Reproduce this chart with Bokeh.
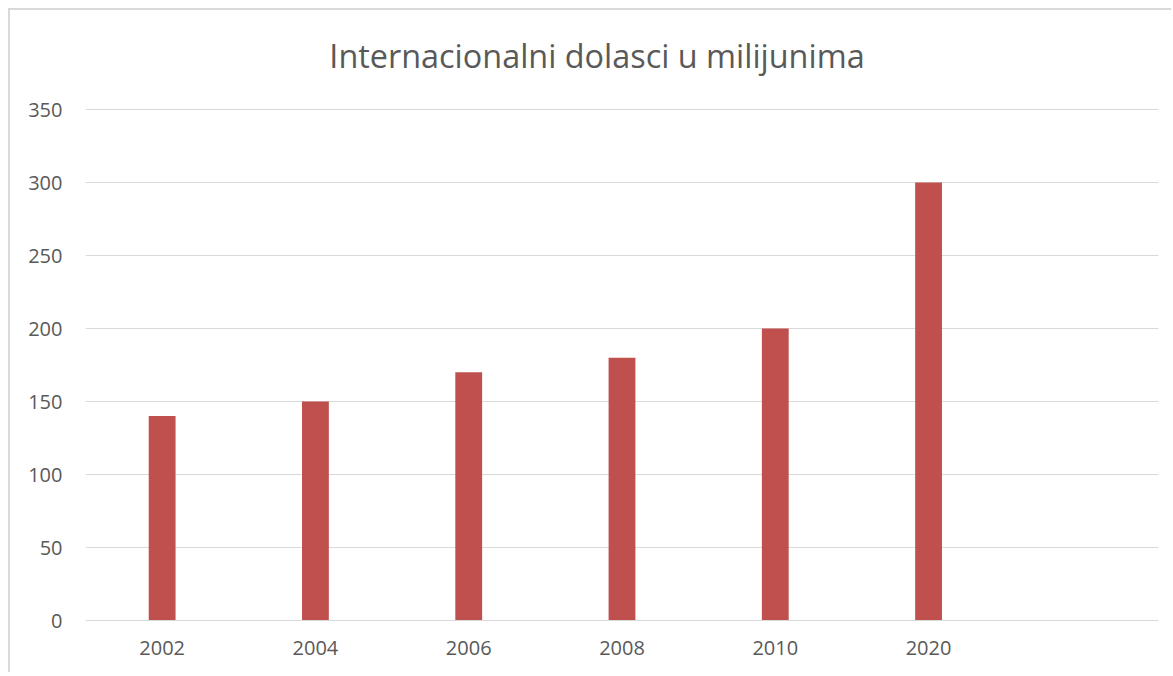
from bokeh.plotting import figure
from bokeh.models import FactorRange, Range1d, FixedTicker, Label
from bokeh.embed import file_html
from bokeh.resources import INLINE

categories = ["2002", "2004", "2006", "2008", "2010", "2020"]
values = [140, 150, 170, 180, 200, 300]
x_factors = categories + [" "]
y_ticks = [0, 50, 100, 150, 200, 250, 300, 350]
title_text = "Internacionalni dolasci u milijunima"

# frame spans 600px; 350 must sit 511px above the baseline -> headroom for the title
y_top = 350 * 600 / 511

p = figure(
    x_range=FactorRange(factors=x_factors),
    y_range=Range1d(0, y_top),
    width=1163, height=664,
    output_backend="svg", toolbar_location=None,
    min_border_left=75, min_border_right=15,
    min_border_top=10, min_border_bottom=54,
)
p.styles = {
    "margin-left": "8px", "margin-top": "8px",
    "border-left": "2px solid #d9d9d9", "border-top": "2px solid #d9d9d9",
}

p.vbar(x=categories, top=values, width=0.175, fill_color="#c0504d", line_color=None)

title = Label(
    text=title_text, x=511.5, y=566, x_units="screen", y_units="screen",
    text_align="center", text_baseline="middle",
    text_font="Open Sans", text_font_size="32.4px", text_color="#595959",
)
p.add_layout(title)

p.outline_line_color = None
p.background_fill_color = "white"
p.border_fill_color = "white"

p.xgrid.grid_line_color = None
p.ygrid.grid_line_color = "#d9d9d9"
p.ygrid.grid_line_width = 1
p.yaxis.ticker = FixedTicker(ticks=y_ticks)

for ax in (p.xaxis, p.yaxis):
    ax.major_tick_line_color = None
    ax.minor_tick_line_color = None
    ax.major_label_text_font = "Open Sans"
    ax.major_label_text_font_size = "20px"
    ax.major_label_text_color = "#595959"

p.yaxis.axis_line_color = None
p.yaxis.major_label_standoff = 17
p.xaxis.axis_line_color = "#d9d9d9"
p.xaxis.axis_line_width = 1
p.xaxis.major_label_standoff = 7

open("out.html", "w").write(file_html(p, INLINE))
